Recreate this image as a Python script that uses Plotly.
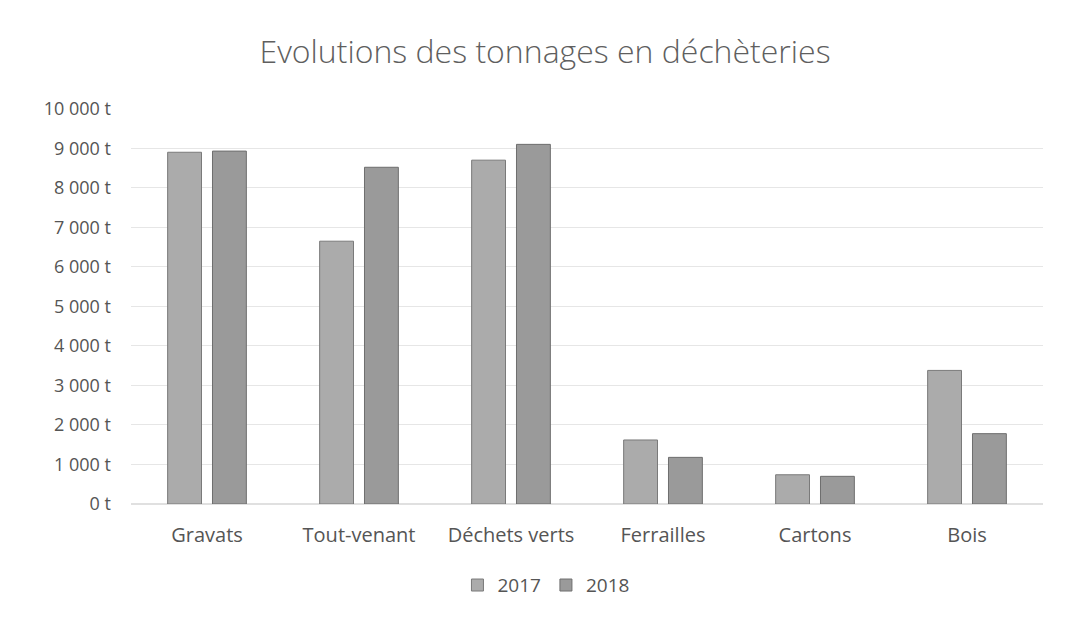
import plotly.graph_objects as go

categories = ["Gravats", "Tout-venant", "Déchets verts", "Ferrailles", "Cartons", "Bois"]
values_2017 = [8900, 6650, 8700, 1620, 740, 3380]
values_2018 = [8930, 8520, 9100, 1180, 700, 1780]
tick_vals = [0, 1000, 2000, 3000, 4000, 5000, 6000, 7000, 8000, 9000, 10000]
tick_text = ["0 t", "1 000 t", "2 000 t", "3 000 t", "4 000 t", "5 000 t",
             "6 000 t", "7 000 t", "8 000 t", "9 000 t", "10 000 t"]

fig = go.Figure()
fig.add_trace(go.Bar(x=categories, y=values_2017, name="2017",
                     marker=dict(color="#ababab", line=dict(color="#7a7a7a", width=1))))
fig.add_trace(go.Bar(x=categories, y=values_2018, name="2018",
                     marker=dict(color="#9a9a9a", line=dict(color="#6e6e6e", width=1))))

fig.update_layout(
    width=1074, height=629,
    paper_bgcolor="white", plot_bgcolor="white",
    font=dict(family="Open Sans, Liberation Sans, sans-serif", color="#555555"),
    title=dict(text="Evolutions des tonnages en déchèteries", x=0.5, xanchor="center",
               y=0.93, yanchor="middle",
               font=dict(size=32, color="#5f5f5f", weight=300)),
    margin=dict(l=123, r=39, t=100, b=133),
    barmode="group", bargap=0.41, bargroupgap=0.245,
    showlegend=True,
    legend=dict(orientation="h", x=0.455, xanchor="center", y=-0.205, yanchor="middle",
                font=dict(size=19, color="#555555")),
    xaxis=dict(showgrid=False, showline=False, zeroline=False, ticks="",
               tickfont=dict(size=20, color="#555555"), ticklabelstandoff=17),
    yaxis=dict(range=[0, 10020], tickvals=tick_vals, ticktext=tick_text,
               showgrid=True, gridcolor="#e6e6e6", gridwidth=1, zeroline=True,
               zerolinecolor="#e0e0e0", showline=False, ticks="",
               tickfont=dict(size=18, color="#555555"), ticklabelstandoff=19),
)

fig.write_html("out.html")
